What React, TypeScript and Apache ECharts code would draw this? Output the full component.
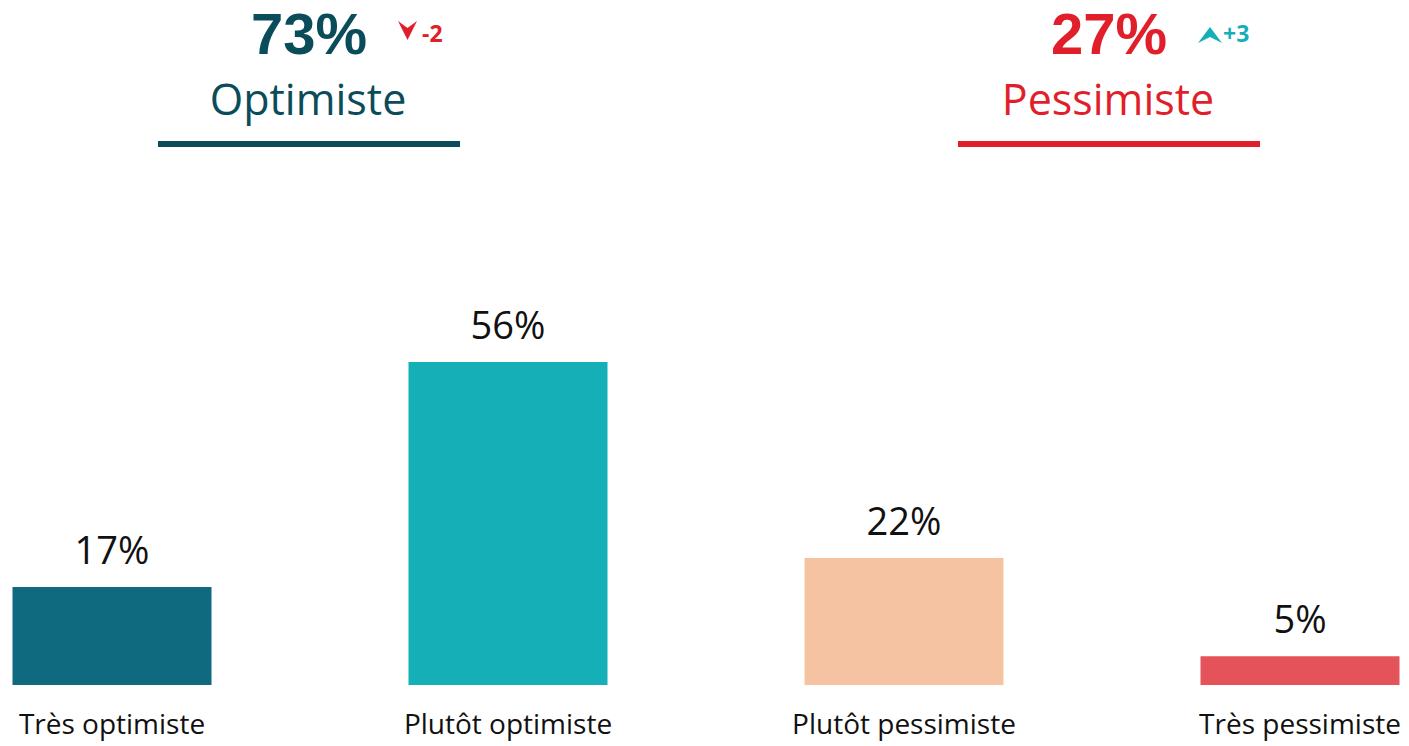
import React, { useEffect, useRef } from "react";
import * as echarts from "echarts";

const categories = ["Très optimiste", "Plutôt optimiste", "Plutôt pessimiste", "Très pessimiste"];
const values = [17, 56, 22, 5];
const barColors = ["#0f6a7f", "#14afb7", "#f6c3a2", "#e4535a"];
const groupNames = ["Optimiste", "Pessimiste"];
const groupTotals = [73, 27];
const groupDeltas = [-2, 3];
const groupColors = ["#0b4c5b", "#e11f2a"];
const deltaColors = ["#e11f2a", "#14afb7"];

const FONT = "'Open Sans', 'Noto Sans', sans-serif";
const BIG_FONT = "'Liberation Sans', Arial, sans-serif";
const OFFSET = 86; // chart canvas extends beyond the visible page on the left
const CANVAS_W = 1584;

export default function App() {
  const ref = useRef<HTMLDivElement>(null);
  useEffect(() => {
    document.body.style.margin = "0";
    const chart = echarts.init(ref.current!, null, { renderer: "svg" });
    const centers = [309 + OFFSET, 1109 + OFFSET];
    const graphics: any[] = [];
    groupNames.forEach((name, i) => {
      const cx = centers[i];
      graphics.push({
        type: "text",
        x: cx,
        y: 33,
        style: {
          text: groupTotals[i] + "%",
          fontSize: 58,
          lineHeight: 58,
          fontWeight: "bold",
          fontFamily: BIG_FONT,
          fill: groupColors[i],
          align: "center",
          verticalAlign: "middle",
        },
      });
      graphics.push({
        type: "text",
        x: cx - 1,
        y: 98,
        style: {
          text: name,
          fontSize: 43,
          lineHeight: 43,
          fontFamily: FONT,
          fill: groupColors[i],
          align: "center",
          verticalAlign: "middle",
        },
      });
      graphics.push({
        type: "rect",
        shape: { x: cx - 151, y: 141, width: 302, height: 6 },
        style: { fill: groupColors[i] },
      });
      const d = groupDeltas[i];
      const ax = cx + 89;
      if (d < 0) {
        graphics.push({
          type: "polygon",
          shape: { points: [[ax, 21], [ax + 9.5, 28], [ax + 19, 21], [ax + 9.5, 40]] },
          style: { fill: deltaColors[i] },
        });
      } else {
        graphics.push({
          type: "polygon",
          shape: { points: [[ax, 43], [ax + 12, 27], [ax + 24, 43], [ax + 12, 37]] },
          style: { fill: deltaColors[i] },
        });
      }
      graphics.push({
        type: "text",
        x: d < 0 ? ax + 24 : ax + 25,
        y: 33,
        style: {
          text: (d > 0 ? "+" : "") + d,
          fontSize: 23,
          lineHeight: 23,
          fontWeight: "bold",
          fontFamily: FONT,
          fill: deltaColors[i],
          align: "left",
          verticalAlign: "middle",
        },
      });
    });

    chart.setOption({
      animation: false,
      grid: { left: 0, right: 0, top: 108, bottom: 61, containLabel: false },
      xAxis: {
        type: "category",
        data: categories,
        axisLine: { show: false },
        axisTick: { show: false },
        axisLabel: {
          fontSize: 28,
          fontFamily: FONT,
          color: "#111",
          margin: 24,
          interval: 0,
        },
      },
      yAxis: { type: "value", min: 0, max: 100, show: false },
      series: [
        {
          type: "bar",
          barWidth: 199,
          data: values.map((v, i) => ({ value: v, itemStyle: { color: barColors[i] } })),
          label: {
            show: true,
            position: "top",
            distance: 19,
            formatter: "{c}%",
            fontSize: 38,
            fontFamily: FONT,
            color: "#111",
          },
        },
      ],
      graphic: graphics,
    });
    return () => chart.dispose();
  }, []);
  return (
    <div style={{ position: "relative", width: 1409, height: 746, overflow: "hidden" }}>
      <div
        ref={ref}
        style={{ position: "absolute", left: -OFFSET, top: 0, width: CANVAS_W, height: 746 }}
      />
    </div>
  );
}
